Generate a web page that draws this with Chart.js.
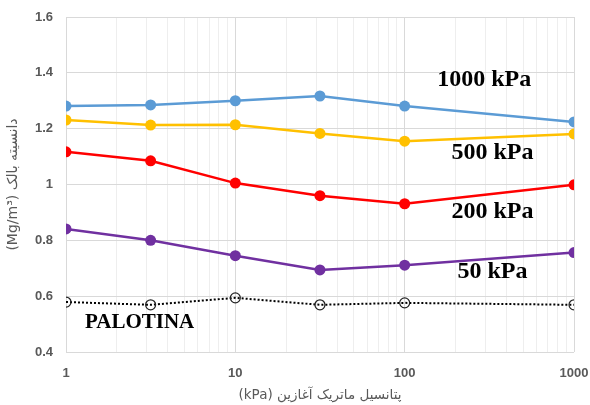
<!DOCTYPE html>
<html>
<head>
<meta charset="utf-8">
<script src="https://cdn.jsdelivr.net/npm/chart.js@4.4.1/dist/chart.umd.min.js"></script>
<style>
    html, body { margin: 0; padding: 0; background: #fff; }
    #wrap { width: 590px; height: 405px; }
</style>
</head>
<body>
<div id="wrap"><canvas id="densityChart" dir="rtl"></canvas></div>
<script>
// --- Data ---
const suctions = [1, 3.16, 10, 31.6, 100, 1000];          // initial matric potential (kPa)
const bd1000 = [1.281, 1.285, 1.300, 1.317, 1.281, 1.224];
const bd500 = [1.231, 1.213, 1.214, 1.183, 1.155, 1.181];
const bd200 = [1.117, 1.085, 1.005, 0.960, 0.931, 0.999];
const bd50 = [0.841, 0.800, 0.745, 0.694, 0.711, 0.756];
const palotina = [0.579, 0.569, 0.594, 0.569, 0.576, 0.569];

const seriesNames = ['1000 kPa', '500 kPa', '200 kPa', '50 kPa', 'PALOTINA'];
const xTickLabels = ['1', '10', '100', '1000'];
const yTickLabels = ['0.4', '0.6', '0.8', '1', '1.2', '1.4', '1.6'];

// label anchors in data units (x in kPa, y in Mg/m3)
const labelX = [295, 330, 330, 330, 2.72];
const labelY = [1.374, 1.114, 0.903, 0.687, 0.504];

document.addEventListener('DOMContentLoaded', function () {
    const ctx = document.getElementById('densityChart').getContext('2d');

    function pts(values) {
        return values.map((v, i) => ({ x: suctions[i], y: v }));
    }

    function solidSeries(label, values, color) {
        return {
            label: label,
            data: pts(values),
            borderColor: color,
            backgroundColor: color,
            borderWidth: 2.5,
            pointRadius: 5.5,
            pointHoverRadius: 5.5,
            pointBorderWidth: 0,
            tension: 0
        };
    }

    // series name labels drawn inside the plot
    const seriesLabels = {
        id: 'seriesLabels',
        afterDatasetsDraw(chart) {
            const c = chart.ctx;
            const xs = chart.scales.x, ys = chart.scales.y;
            c.save();
            c.direction = 'ltr';
            c.fillStyle = '#000';
            c.textAlign = 'center';
            c.textBaseline = 'middle';
            seriesNames.forEach((name, i) => {
                const size = name === 'PALOTINA' ? 21 : 24;
                c.font = 'bold ' + size + 'px "Liberation Serif", "Times New Roman", serif';
                c.fillText(name, xs.getPixelForValue(labelX[i]), ys.getPixelForValue(labelY[i]));
            });
            c.restore();
        }
    };

    const tickFont = { family: '"Liberation Sans", Arial, sans-serif', size: 13, weight: 'bold' };

    new Chart(ctx, {
        type: 'line',
        data: {
            datasets: [
                solidSeries(seriesNames[0], bd1000, '#5B9BD5'),
                solidSeries(seriesNames[1], bd500, '#FFC000'),
                solidSeries(seriesNames[2], bd200, '#FF0000'),
                solidSeries(seriesNames[3], bd50, '#7030A0'),
                {
                    label: seriesNames[4],
                    data: pts(palotina),
                    borderColor: '#000',
                    backgroundColor: 'rgba(0,0,0,0)',
                    borderWidth: 2,
                    borderDash: [2, 2],
                    pointRadius: 5,
                    pointHoverRadius: 5,
                    pointBorderWidth: 1.2,
                    pointBorderColor: '#222',
                    tension: 0
                }
            ]
        },
        options: {
            responsive: true,
            maintainAspectRatio: false,
            animation: false,
            layout: { padding: { top: 17, right: 16, left: 0, bottom: 0 } },
            plugins: {
                legend: { display: false },
                tooltip: { enabled: false }
            },
            scales: {
                x: {
                    type: 'logarithmic',
                    min: 1,
                    max: 1000,
                    afterBuildTicks: function (scale) {
                        const t = [];
                        for (let d = 1; d <= 100; d *= 10) {
                            for (let k = 1; k <= 9; k++) t.push({ value: k * d });
                        }
                        t.push({ value: 1000 });
                        scale.ticks = t;
                    },
                    afterFit: function (scale) {
                        scale.height = 53;
                        scale.paddingLeft = 0;
                        scale.paddingRight = 0;
                    },
                    grid: {
                        drawTicks: false,
                        color: function (c) {
                            const v = c.tick ? c.tick.value : 0;
                            return xTickLabels.includes(String(v)) ? '#D9D9D9' : '#EEEEEE';
                        },
                        lineWidth: 1
                    },
                    border: { display: false },
                    ticks: {
                        autoSkip: false,
                        maxRotation: 0,
                        padding: 14,
                        color: '#595959',
                        font: tickFont,
                        callback: function (v) {
                            return xTickLabels.includes(String(v)) ? String(v) : '';
                        }
                    },
                    title: {
                        display: true,
                        text: 'پتانسیل ماتریک آغازین (kPa)',
                        color: '#595959',
                        font: { family: '"DejaVu Sans", sans-serif', size: 13.5 },
                        padding: { top: 0, bottom: 1 }
                    }
                },
                y: {
                    min: 0.4,
                    max: 1.6,
                    afterFit: function (scale) {
                        scale.width = 66;
                        scale.paddingTop = 0;
                        scale.paddingBottom = 0;
                    },
                    grid: { drawTicks: false, color: '#D9D9D9' },
                    border: { display: true, color: '#D9D9D9' },
                    ticks: {
                        stepSize: 0.2,
                        padding: 13,
                        color: '#595959',
                        font: tickFont,
                        callback: function (v, i) { return yTickLabels[i]; }
                    },
                    title: {
                        display: true,
                        text: 'دانسیته بالک (Mg/m³)',
                        color: '#595959',
                        font: { family: '"DejaVu Sans", sans-serif', size: 14 },
                        padding: { top: 5, bottom: 0 }
                    }
                }
            }
        },
        plugins: [seriesLabels]
    });
});
</script>
</body>
</html>
